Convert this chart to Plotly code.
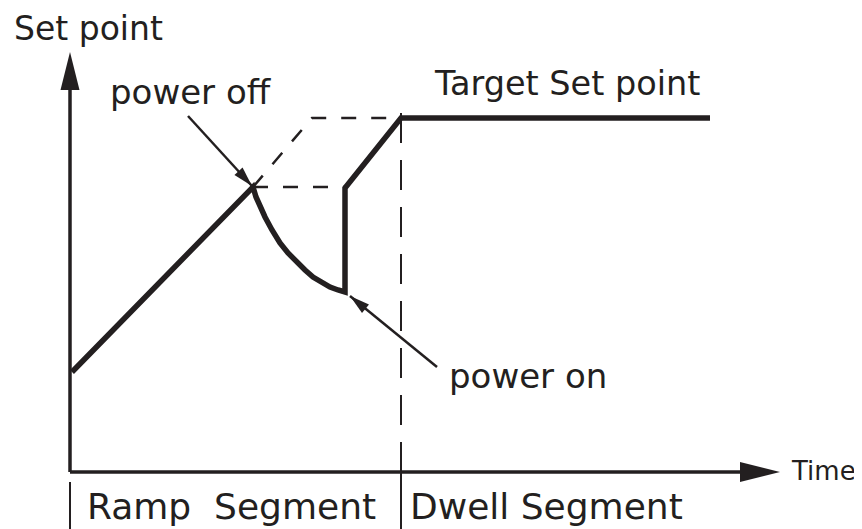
import numpy as np
import plotly.graph_objects as go

# schematic data (time units / set point units, origin at axis crossing)
ramp_time = [2, 183]
ramp_sp = [100, 285]
decay_time = [183, 186, 190, 195, 202, 210, 218, 227, 235, 243, 252, 260, 268, 275]
decay_sp = [285, 275, 265, 255, 242, 229, 219, 209, 202, 195, 189, 185, 182, 180]
recover_time = [275, 275, 331, 640]
recover_sp = [180, 284, 354, 354]

planned_time = [183, 242, 331]
planned_sp = [285, 354, 354]
hold_time = [183, 275]
hold_sp = [285, 285]

segment_end = 331
segment_top = 372
time_axis_end = 710
sp_axis_end = 420
label_floor = -57

power_off_tail = (118, 356)
power_off_tip = (182, 286)
power_on_tail = (367, 105)
power_on_tip = (280, 176)

INK = "#231f20"
FONT = "DejaVu Sans"

fig = go.Figure()


def line(x, y, width, dash="solid"):
    fig.add_trace(go.Scatter(x=x, y=y, mode="lines", hoverinfo="skip",
                             line=dict(color=INK, width=width, dash=dash)))


def head(tip, tail, length, width):
    tip = np.array(tip, float)
    d = tip - np.array(tail, float)
    d /= np.hypot(*d)
    base = tip - d * length
    perp = np.array([-d[1], d[0]]) * width / 2
    a, b = base + perp, base - perp
    fig.add_shape(type="path", xref="x", yref="y", line=dict(width=0), fillcolor=INK,
                  path=f"M{tip[0]},{tip[1]} L{a[0]},{a[1]} L{b[0]},{b[1]} Z")


# axes
line([0, 0], [0, sp_axis_end - 30], 3.5)
line([0, time_axis_end - 30], [0, 0], 3.5)
head((0, sp_axis_end), (0, 0), 38, 19)
head((time_axis_end, 0), (0, 0), 40, 20)

# segment boundaries
line([segment_end, segment_end], [0, segment_top], 2, "30px,17px")
line([segment_end, segment_end], [label_floor, 0], 2)
line([0, 0], [label_floor, -10], 2)

# dashed reference paths
line(planned_time, planned_sp, 2.5, "15px,15px")
line(hold_time, hold_sp, 2.5, "15px,15px")

# actual set point
line(ramp_time + decay_time[1:] + recover_time[1:],
     ramp_sp + decay_sp[1:] + recover_sp[1:], 5.5)

# pointer arrows
for tail, tip in [(power_off_tail, power_off_tip), (power_on_tail, power_on_tip)]:
    line([tail[0], tip[0]], [tail[1], tip[1]], 2.5)
    head(tip, tail, 20, 11)

labels = [
    ("Set point", -58, 444, 33),
    ("power off", 38, 380, 34),
    ("Target Set point", 362, 388.5, 33.5),
    ("power on", 377, 96, 34),
    ("Time", 719, 1.5, 26),
    ("Ramp  Segment", 15, -34, 36),
    ("Dwell Segment", 338, -34, 36),
]
for text, x, y, size in labels:
    fig.add_annotation(x=x, y=y, text=text, showarrow=False, xanchor="left", yanchor="middle",
                       font=dict(family=FONT, size=size, color=INK))

# the page has an 8px body margin, so the figure is 8px smaller and shifted
fig.update_layout(
    width=854, height=521, autosize=False,
    margin=dict(l=0, r=0, t=0, b=0),
    paper_bgcolor="white", plot_bgcolor="white",
    showlegend=False,
    xaxis=dict(range=[-62, 792], visible=False, fixedrange=True),
    yaxis=dict(range=[-57, 464], visible=False, fixedrange=True),
)

fig.write_html("out.html")
